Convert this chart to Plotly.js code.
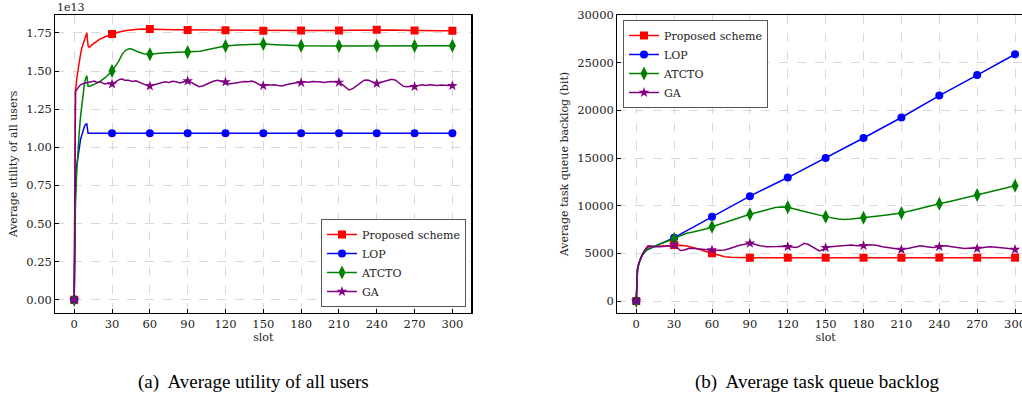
<!DOCTYPE html>
<html><head><meta charset="utf-8">
<script src="https://cdn.plot.ly/plotly-3.0.1.min.js"></script>
<style>html,body{margin:0;padding:0;overflow:hidden;background:#fff}#chart{width:1040px;height:399px}</style>
</head><body><div id="chart"></div>
<script>
// ---------- data ----------
const seriesNames = ["Proposed scheme", "LOP", "ATCTO", "GA"];
const xTicks = [0, 30, 60, 90, 120, 150, 180, 210, 240, 270, 300];
const utilityTicks = [0, 0.25, 0.5, 0.75, 1.0, 1.25, 1.5, 1.75];
const backlogTicks = [0, 5000, 10000, 15000, 20000, 25000, 30000];

// (a) Average utility of all users (units of 1e13)
const utilProposedSlots = [0,1,2,3,4,5,6,7,8,9,10,11,12,14,16,20,25,30,35,40,45,50,55,60,70,80,90,100,110,120,130,140,150,160,170,180,190,200,210,220,230,240,250,260,270,280,290,300];
const utilProposed = [0,1.36,1.45,1.51,1.56,1.61,1.65,1.68,1.71,1.735,1.752,1.665,1.655,1.672,1.686,1.708,1.727,1.743,1.755,1.764,1.770,1.774,1.776,1.776,1.773,1.771,1.770,1.769,1.768,1.768,1.767,1.766,1.765,1.765,1.766,1.766,1.766,1.765,1.766,1.768,1.770,1.772,1.770,1.768,1.766,1.765,1.765,1.765];

const utilLopSlots = [0,1,2,3,4,5,6,7,8,9,10,11,12,30,60,90,120,150,180,210,240,270,300];
const utilLop = [0,0.78,0.88,0.95,1.01,1.05,1.08,1.11,1.135,1.15,1.153,1.092,1.092,1.092,1.092,1.092,1.092,1.092,1.092,1.092,1.092,1.092,1.092];

const utilAtctoSlots = [0,1,2,3,4,5,6,7,8,9,10,11,12,15,20,25,30,35,38,41,44,47,50,55,60,70,80,90,100,110,120,130,140,150,160,170,180,210,240,270,300];
const utilAtcto = [0,0.62,0.84,1.0,1.10,1.20,1.28,1.35,1.41,1.45,1.47,1.40,1.40,1.41,1.43,1.46,1.50,1.56,1.61,1.638,1.648,1.64,1.628,1.614,1.61,1.618,1.622,1.625,1.630,1.648,1.665,1.672,1.676,1.677,1.673,1.668,1.666,1.665,1.666,1.665,1.667];

const utilGaSlots = [0,1,3,5,8,10,13,16,18,21,24,27,30,33,36,38,40,43,46,49,52,55,58,60,63,66,69,72,75,78,81,84,87,90,93,96,99,102,105,108,111,114,117,120,123,126,129,132,135,138,141,144,147,150,153,156,159,162,165,168,171,174,177,180,183,186,189,192,195,198,201,204,207,210,213,216,218,221,224,227,230,233,236,240,243,246,249,252,255,258,261,264,267,270,273,276,279,282,285,288,291,294,297,300];
const utilGa = [0,1.365,1.39,1.41,1.42,1.425,1.43,1.435,1.425,1.43,1.415,1.42,1.415,1.43,1.445,1.448,1.44,1.44,1.432,1.436,1.425,1.415,1.405,1.402,1.41,1.418,1.425,1.43,1.425,1.433,1.43,1.422,1.43,1.435,1.425,1.41,1.398,1.402,1.415,1.425,1.435,1.44,1.432,1.428,1.415,1.42,1.425,1.43,1.432,1.43,1.435,1.425,1.41,1.404,1.41,1.408,1.41,1.405,1.402,1.41,1.415,1.42,1.425,1.424,1.43,1.427,1.432,1.43,1.43,1.425,1.428,1.432,1.428,1.426,1.41,1.39,1.376,1.385,1.405,1.425,1.44,1.442,1.43,1.418,1.425,1.435,1.44,1.446,1.44,1.42,1.40,1.397,1.40,1.398,1.405,1.41,1.405,1.41,1.408,1.405,1.408,1.405,1.403,1.404];

// (b) Average task queue backlog (bit)
const backProposedSlots = [0,1,2,3,4,5,6,7,8,9,10,12,15,20,25,30,35,40,45,50,55,60,65,70,75,80,90,120,150,180,210,240,270,300];
const backProposed = [0,3300,3900,4300,4600,4850,5100,5300,5450,5580,5680,5720,5740,5780,5830,5870,5840,5770,5620,5420,5200,5000,4800,4650,4580,4550,4540,4540,4540,4540,4540,4550,4545,4545];

const backLopSlots = [0,1,2,3,4,5,6,7,8,9,10,30,60,90,120,150,180,210,240,270,300];
const backLop = [0,3300,3900,4300,4600,4850,5050,5200,5320,5400,5450,6640,8850,11000,12950,15000,17100,19250,21550,23700,25880];

const backAtctoSlots = [0,1,2,3,4,5,6,7,8,9,10,15,20,25,30,35,40,45,50,55,60,70,80,90,100,110,115,120,130,140,150,160,165,170,180,190,200,210,220,230,240,250,260,270,280,290,300];
const backAtcto = [0,3300,3900,4300,4600,4850,5050,5200,5320,5400,5450,5750,6050,6300,6500,6850,7100,7230,7380,7560,7790,8250,8700,9090,9450,9800,9870,9830,9500,9150,8850,8600,8550,8600,8720,8900,9050,9230,9550,9900,10200,10500,10800,11120,11450,11750,12080];

const backGaSlots = [0,1,2,3,4,5,6,7,8,9,10,12,15,18,21,24,27,30,33,35,38,42,46,50,54,57,60,63,66,70,74,78,82,86,90,94,98,103,108,112,116,120,124,127,130,133,136,140,145,148,150,154,158,162,166,170,175,180,185,190,195,200,205,210,215,220,225,230,235,240,245,250,255,260,265,270,275,280,285,290,295,300];
const backGa = [0,3300,3950,4350,4700,4950,5200,5400,5600,5750,5800,5750,5700,5680,5700,5720,5760,5870,5500,5300,5350,5530,5500,5450,5400,5350,5350,5300,5320,5350,5500,5700,5850,5950,6050,5950,5800,5700,5680,5720,5750,5700,5650,5610,5800,6050,5950,5600,5250,5400,5600,5700,5750,5850,5900,5880,5800,5800,5900,5850,5700,5600,5450,5400,5500,5650,5800,5700,5600,5700,5800,5700,5600,5500,5550,5500,5600,5700,5650,5600,5500,5400];

// ---------- styling ----------
const colors = ["#ff0000", "#0000ff", "#008000", "#800080"];
const symbols = ["square", "circle", "diamond-tall", "star"];
const sizes = [8, 8, 10, 8];
const W = 1040, H = 399;
const serif = "DejaVu Serif, serif";

const traces = [];
function addSeries(xs, ys, i, xa, ya, legendId) {
  traces.push({x: xs, y: ys, xaxis: xa, yaxis: ya, mode: "lines",
    line: {color: colors[i], width: 1.5}, showlegend: false, hoverinfo: "skip"});
  const mx = [], my = [];
  xs.forEach((s, k) => { if (s % 30 === 0) { mx.push(s); my.push(ys[k]); } });
  traces.push({x: mx, y: my, xaxis: xa, yaxis: ya, mode: "markers",
    marker: {symbol: symbols[i], size: sizes[i], color: colors[i], line: {width: 0}}, showlegend: false});
  traces.push({x: [null], y: [null], xaxis: xa, yaxis: ya, mode: "lines+markers", name: seriesNames[i],
    legend: legendId, showlegend: true,
    line: {color: colors[i], width: 1.5},
    marker: {symbol: symbols[i], size: sizes[i], color: colors[i], line: {width: 0}}});
}
addSeries(utilProposedSlots, utilProposed, 0, "x", "y", "legend");
addSeries(utilLopSlots, utilLop, 1, "x", "y", "legend");
addSeries(utilAtctoSlots, utilAtcto, 2, "x", "y", "legend");
addSeries(utilGaSlots, utilGa, 3, "x", "y", "legend");
addSeries(backProposedSlots, backProposed, 0, "x2", "y2", "legend2");
addSeries(backLopSlots, backLop, 1, "x2", "y2", "legend2");
addSeries(backAtctoSlots, backAtcto, 2, "x2", "y2", "legend2");
addSeries(backGaSlots, backGa, 3, "x2", "y2", "legend2");

const yDom = [(H - 313) / H, (H - 15) / H];
function axisBase() {
  return {showline: true, mirror: true, linecolor: "#000", linewidth: 1.2,
    ticks: "inside", ticklen: 4, tickwidth: 1, tickcolor: "#000",
    showgrid: true, gridcolor: "#d0d0d0", griddash: "dash", gridwidth: 0.8,
    zeroline: false, tickfont: {family: serif, size: 11.5, color: "#222"}};
}
const legendBase = {bgcolor: "#fff", bordercolor: "#555", borderwidth: 1,
  font: {family: serif, size: 11, color: "#222"}, tracegroupgap: 0, itemwidth: 30};

const layout = {
  width: W, height: H, margin: {l: 0, r: 0, t: 0, b: 0},
  paper_bgcolor: "#fff", plot_bgcolor: "#fff", showlegend: true,
  xaxis: Object.assign(axisBase(), {domain: [55.3 / W, 471.3 / W], range: [-15, 315], tickvals: xTicks,
    title: {text: "slot", font: {family: serif, size: 11, color: "#222"}, standoff: 2}}),
  yaxis: Object.assign(axisBase(), {domain: yDom, range: [-0.087, 1.868], tickvals: utilityTicks, tickformat: ".2f",
    title: {text: "Average utility of all users", font: {family: serif, size: 11, color: "#222"}, standoff: 6}}),
  xaxis2: Object.assign(axisBase(), {domain: [617.3 / W, 1034 / W], range: [-15, 315], tickvals: xTicks, anchor: "y2",
    title: {text: "slot", font: {family: serif, size: 11, color: "#222"}, standoff: 2}}),
  yaxis2: Object.assign(axisBase(), {domain: yDom, range: [-1259, 30000], tickvals: backlogTicks, tickformat: "d", anchor: "x2",
    title: {text: "Average task queue backlog (bit)", font: {family: serif, size: 11, color: "#222"}, standoff: 6}}),
  legend: Object.assign({}, legendBase, {x: 466 / W, xanchor: "right", y: (H - 307) / H, yanchor: "bottom"}),
  legend2: Object.assign({}, legendBase, {x: 623 / W, xanchor: "left", y: (H - 20) / H, yanchor: "top"}),
  annotations: [
    {text: "1e13", xref: "paper", yref: "paper", x: 55 / W, y: (H - 7) / H, xanchor: "left", yanchor: "middle",
      showarrow: false, font: {family: serif, size: 11, color: "#222"}},
    {text: "(a)  Average utility of all users", xref: "paper", yref: "paper", x: 253 / W, y: (H - 382) / H,
      xanchor: "center", yanchor: "middle", showarrow: false, font: {family: "Liberation Serif, serif", size: 19, color: "#000"}},
    {text: "(b)  Average task queue backlog", xref: "paper", yref: "paper", x: 817 / W, y: (H - 382) / H,
      xanchor: "center", yanchor: "middle", showarrow: false, font: {family: "Liberation Serif, serif", size: 19, color: "#000"}}
  ]
};
Plotly.newPlot("chart", traces, layout, {displayModeBar: false, staticPlot: true});
</script></body></html>
